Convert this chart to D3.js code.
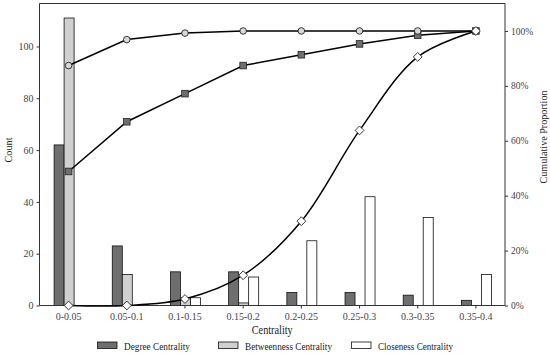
<!DOCTYPE html>
<html><head><meta charset="utf-8">
<script src="https://cdn.jsdelivr.net/npm/d3@7/dist/d3.min.js"></script>
<style>body{margin:0;background:#fff}svg{display:block}</style>
</head><body><svg id="c" width="550" height="354"></svg>
<script>
const categories = ["0-0.05","0.05-0.1","0.1-0.15","0.15-0.2","0.2-0.25","0.25-0.3","0.3-0.35","0.35-0.4"];
const degree = [62,23,13,13,5,5,4,2];
const betweenness = [111,12,3,1,0,0,0,0];
const closeness = [0,0,3,11,25,42,34,12];
const leftTicks = [0,20,40,60,80,100];
const rightTicks = [0,0.2,0.4,0.6,0.8,1.0];
const seriesNames = ["Degree Centrality","Betweenness Centrality","Closeness Centrality"];

const FONT = "Liberation Serif";
const svg = d3.select("#c").attr("font-family",FONT);
const L=39.5, R=505, T=3.5, B=305.5;
const x = d3.scaleBand().domain(categories).range([L,R]).padding(0);
const yL = d3.scaleLinear().domain([0,116.6]).range([B,T]);
const yR = d3.scaleLinear().domain([0,1.1]).range([B,T]);
const fills = ["#6e6e6e","#d0d0d0","#ffffff"];
const data = [degree, betweenness, closeness];
const barW = 10;

svg.append("line").attr("x1",L).attr("x2",R).attr("y1",T).attr("y2",T).attr("stroke","#333").attr("stroke-width",1);

data.forEach((arr,si)=>{
  svg.append("g").selectAll("rect").data(arr).join("rect")
    .attr("x",(d,i)=>x(categories[i])+x.bandwidth()/2-14.5+si*barW)
    .attr("y",d=>yL(d)).attr("width",barW).attr("height",d=>B-yL(d))
    .attr("fill",fills[si]).attr("stroke","#111").attr("stroke-width",0.8);
});

const gL = svg.append("g").attr("transform",`translate(${L},0)`).call(d3.axisLeft(yL).tickValues(leftTicks).tickSize(3).tickPadding(3));
const gR = svg.append("g").attr("transform",`translate(${R},0)`).call(d3.axisRight(yR).tickValues(rightTicks).tickFormat(d=>Math.round(d*100)+"%").tickSize(3).tickPadding(3));
const gB = svg.append("g").attr("transform",`translate(0,${B})`).call(d3.axisBottom(x).tickSize(3).tickPadding(4));
[gL,gR,gB].forEach(g=>{
  g.attr("font-family",FONT).attr("font-size",10);
  g.select(".domain").attr("stroke","#333").attr("stroke-width",1);
  g.selectAll(".tick line").attr("stroke","#333");
  g.selectAll("text").attr("font-family",FONT).attr("font-size",10).attr("fill","#444");
});
gR.selectAll("text").attr("font-size",9.5);
gL.select(".domain").attr("d",`M0,${B}V${T}`);
gR.select(".domain").attr("d",`M0,${B}V${T}`);
gB.select(".domain").attr("d",`M${L},0H${R}`);

const cum = arr=>{const tot=d3.sum(arr);let s=0;return arr.map(v=>(s+=v)/tot);};
const cx = c=>x(c)+x.bandwidth()/2;
const curves=[d3.curveLinear,d3.curveLinear,d3.curveCatmullRom.alpha(0.5)];
const cumData = data.map(cum);
cumData.forEach((cd,si)=>{
  svg.append("path").datum(cd).attr("fill","none").attr("stroke","#000").attr("stroke-width",1.5)
    .attr("d",d3.line().x((d,i)=>cx(categories[i])).y(d=>yR(d)).curve(curves[si]));
});
svg.append("g").selectAll("rect").data(cumData[0]).join("rect")
  .attr("x",(d,i)=>cx(categories[i])-3.3).attr("y",d=>yR(d)-3.3).attr("width",6.6).attr("height",6.6)
  .attr("fill","#6e6e6e").attr("stroke","#222").attr("stroke-width",0.8);
svg.append("g").selectAll("circle").data(cumData[1]).join("circle")
  .attr("cx",(d,i)=>cx(categories[i])).attr("cy",d=>yR(d)).attr("r",3.3)
  .attr("fill","#d8d8d8").attr("stroke","#222").attr("stroke-width",0.9);
svg.append("g").selectAll("path").data(cumData[2]).join("path")
  .attr("d",(d,i)=>{const px=cx(categories[i]),py=yR(d),r=4.4;return `M${px},${py-r}L${px+r},${py}L${px},${py+r}L${px-r},${py}Z`;})
  .attr("fill","#fff").attr("stroke","#222").attr("stroke-width",0.9);

const txt = (sel)=>sel.attr("font-family",FONT).attr("fill","#222").attr("lengthAdjust","spacingAndGlyphs");
txt(svg.append("text").attr("x",(L+R)/2).attr("y",334).attr("text-anchor","middle").attr("font-size",11.5).attr("textLength",41)).text("Centrality");
txt(svg.append("text").attr("transform","translate(11.5,150) rotate(-90)").attr("text-anchor","middle").attr("font-size",11).attr("textLength",25)).text("Count");
txt(svg.append("text").attr("transform","translate(546.5,137) rotate(-90)").attr("text-anchor","middle").attr("font-size",11).attr("textLength",93)).text("Cumulative Proportion");

const legX=[97.5,218.5,351.5];
const legLen=[66,87,75];
seriesNames.forEach((n,i)=>{
  svg.append("rect").attr("x",legX[i]).attr("y",342).attr("width",19.5).attr("height",6.5).attr("fill",fills[i]).attr("stroke","#111").attr("stroke-width",0.8);
  txt(svg.append("text").attr("x",legX[i]+26.5).attr("y",349.5).attr("font-size",11).attr("textLength",legLen[i])).text(n);
});
</script></body></html>
